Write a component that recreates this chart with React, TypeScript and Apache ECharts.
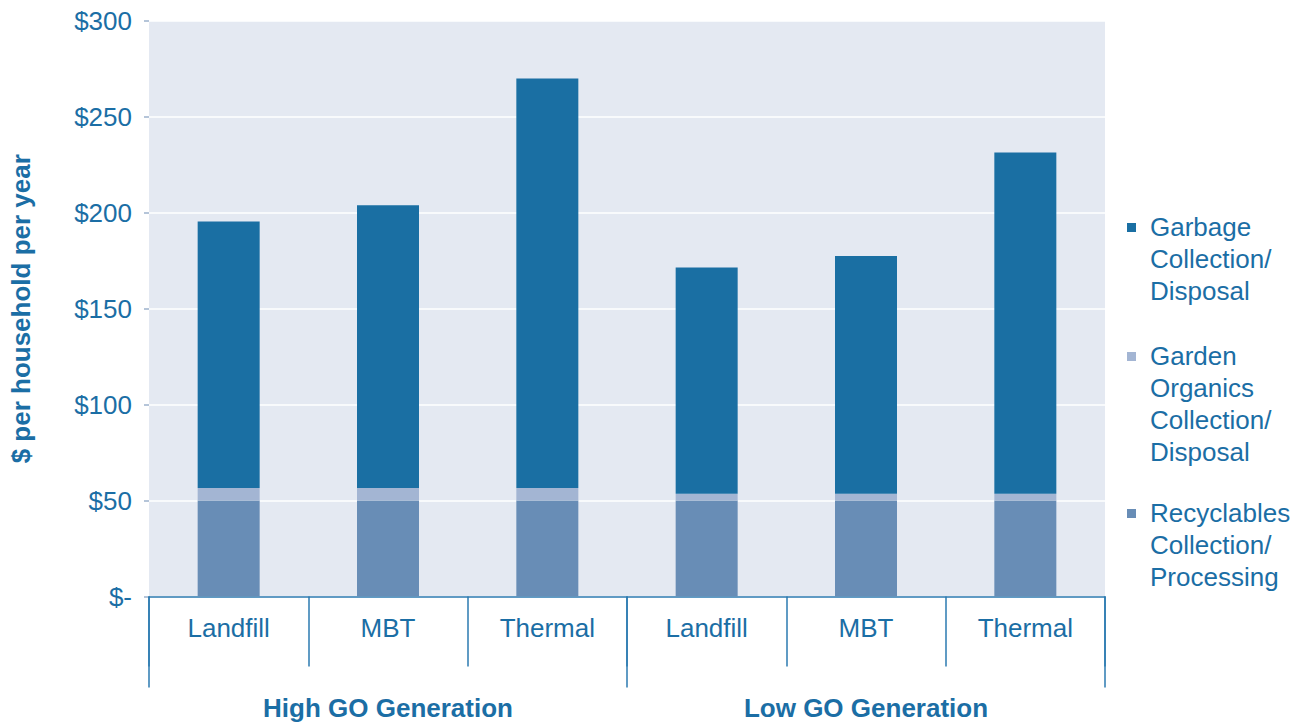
import React, { useEffect, useRef } from "react";
import * as echarts from "echarts";

const categories = ["Landfill", "MBT", "Thermal", "Landfill", "MBT", "Thermal"];
const groups = ["High GO Generation", "Low GO Generation"];
const recyclables = [50, 50, 50, 50, 50, 50];
const gardenOrganics = [6.5, 6.5, 6.5, 3.5, 3.5, 3.5];
const garbage = [139, 147.5, 213.5, 118, 124, 178];
const seriesNames = [
  "Recyclables Collection/ Processing",
  "Garden Organics Collection/ Disposal",
  "Garbage Collection/ Disposal",
];
const legendLines = [
  ["Garbage", "Collection/", "Disposal"],
  ["Garden", "Organics", "Collection/", "Disposal"],
  ["Recyclables", "Collection/", "Processing"],
];
const yTicks = [0, 50, 100, 150, 200, 250, 300];

const TEXT = "#1b6ea5";
const LINE = "#2b7ab0";
const FONT = "'Liberation Sans', Arial, sans-serif";
const C_GARBAGE = "#1a6fa3";
const C_GARDEN = "#a3b5d3";
const C_RECYC = "#688db6";

export default function App() {
  const ref = useRef<HTMLDivElement>(null);
  useEffect(() => {
    if (!ref.current) return;
    const chart = echarts.init(ref.current, undefined, { renderer: "svg" });
    const legendColors = [C_GARBAGE, C_GARDEN, C_RECYC];
    const legendTops = [227, 356, 513];
    const graphics: any[] = [];
    legendLines.forEach((lines, i) => {
      graphics.push({
        type: "rect",
        left: 1127,
        top: legendTops[i] - 4,
        shape: { width: 9, height: 9 },
        style: { fill: legendColors[i] },
      });
      graphics.push({
        type: "text",
        left: 1150,
        top: legendTops[i] - 16,
        style: {
          text: lines.join("\n"),
          fill: TEXT,
          font: `26px ${FONT}`,
          lineHeight: 32,
        },
      });
    });
    chart.setOption({
      animation: false,
      textStyle: { fontFamily: FONT },
      grid: {
        left: 148,
        right: 205,
        top: 21,
        bottom: 127.5,
        show: true,
        backgroundColor: "#e4e9f2",
        borderWidth: 0,
        containLabel: false,
      },
      xAxis: [
        {
          type: "category",
          data: categories,
          axisLine: { show: true, lineStyle: { color: LINE, width: 1.5 } },
          axisTick: {
            show: true,
            alignWithLabel: false,
            interval: 0,
            length: 70,
            lineStyle: { color: LINE, width: 1.5 },
          },
          axisLabel: { color: TEXT, fontSize: 26, margin: 18, interval: 0, fontFamily: FONT },
          splitLine: { show: false },
        },
        {
          type: "category",
          data: groups,
          position: "bottom",
          axisLine: { show: false },
          axisTick: {
            show: true,
            alignWithLabel: false,
            interval: 0,
            length: 91,
            lineStyle: { color: LINE, width: 1.5 },
          },
          axisLabel: {
            color: TEXT,
            fontSize: 26,
            fontWeight: "bold",
            margin: 98,
            interval: 0,
            fontFamily: FONT,
          },
          splitLine: { show: false },
        },
      ],
      yAxis: {
        type: "value",
        min: yTicks[0],
        max: yTicks[yTicks.length - 1],
        interval: 50,
        name: "$ per household per year",
        nameLocation: "middle",
        nameRotate: 90,
        nameGap: 115,
        nameTextStyle: { color: TEXT, fontSize: 26, fontWeight: "bold", fontFamily: FONT },
        axisLine: { show: false },
        axisTick: { show: true, length: 5, lineStyle: { color: "#9db2cc", width: 1.5 } },
        axisLabel: {
          color: TEXT,
          fontSize: 26,
          margin: 17,
          fontFamily: FONT,
          formatter: (v: number) => (v === 0 ? "$-" : "$" + v),
        },
        splitLine: { show: true, lineStyle: { color: "#ffffff", width: 1.5 } },
      },
      series: [
        { name: seriesNames[0], type: "bar", stack: "s", data: recyclables, barWidth: 62, itemStyle: { color: C_RECYC } },
        { name: seriesNames[1], type: "bar", stack: "s", data: gardenOrganics, barWidth: 62, itemStyle: { color: C_GARDEN } },
        { name: seriesNames[2], type: "bar", stack: "s", data: garbage, barWidth: 62, itemStyle: { color: C_GARBAGE } },
      ],
      graphic: graphics,
    });
    return () => chart.dispose();
  }, []);
  return (
    <div
      ref={ref}
      style={{ position: "absolute", left: 0, top: 0, width: 1310, height: 724, background: "#fff" }}
    />
  );
}
